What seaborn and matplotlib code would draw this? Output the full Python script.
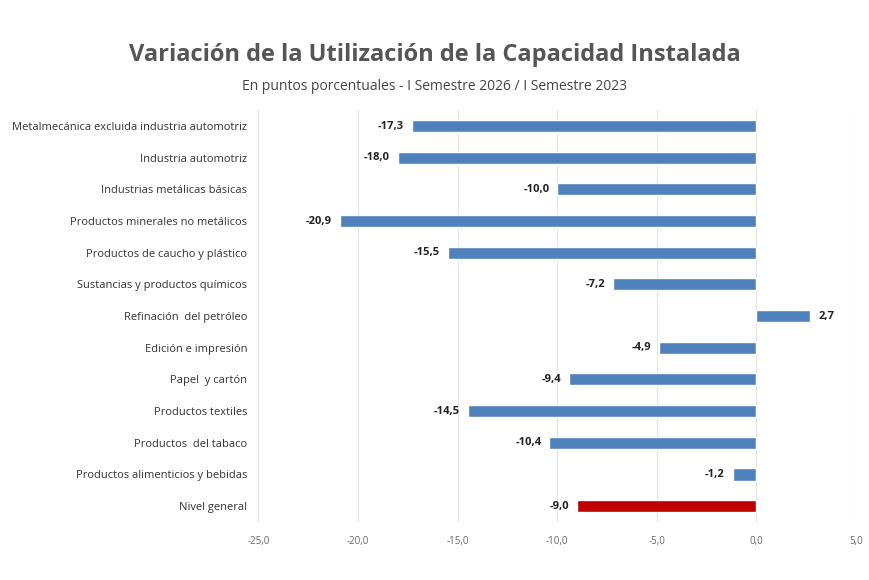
import matplotlib
matplotlib.use("Agg")
import matplotlib.pyplot as plt
import seaborn as sns
import pandas as pd

categories = [
    "Metalmecánica excluida industria automotriz",
    "Industria automotriz",
    "Industrias metálicas básicas",
    "Productos minerales no metálicos",
    "Productos de caucho y plástico",
    "Sustancias y productos químicos",
    "Refinación  del petróleo",
    "Edición e impresión",
    "Papel  y cartón",
    "Productos textiles",
    "Productos  del tabaco",
    "Productos alimenticios y bebidas",
    "Nivel general",
]
values = [-17.3, -18.0, -10.0, -20.9, -15.5, -7.2, 2.7, -4.9, -9.4, -14.5, -10.4, -1.2, -9.0]
colors = ["#4f81bd"] * 12 + ["#c00000"]

df = pd.DataFrame({"cat": categories, "val": values})

sns.set_style("white")
plt.rcParams["font.family"] = ["Open Sans", "DejaVu Sans"]

fig = plt.figure(figsize=(8.7, 5.8), dpi=100)
ax = fig.add_axes([0.297, 0.10, 0.687, 0.71])
sns.barplot(data=df, x="val", y="cat", hue="cat", palette=colors, legend=False,
            width=0.38, ax=ax, saturation=1)

ax.set_xlim(-25, 5)
ax.set_xticks(range(-25, 6, 5))
ax.set_xticklabels([f"{t:.1f}".replace(".", ",") for t in range(-25, 6, 5)],
                   fontsize=7, color="#666666")
ax.xaxis.grid(True, color="#e3e3e3", linewidth=0.8)
ax.set_axisbelow(True)
ax.set_xlabel("")
ax.set_ylabel("")
ax.tick_params(axis="y", labelsize=8, colors="#333333", length=0, pad=8)
ax.tick_params(axis="x", length=0, pad=10)
for s in ax.spines.values():
    s.set_visible(False)

for i, v in enumerate(values):
    lbl = f"{v:.1f}".replace(".", ",")
    if v < 0:
        ax.text(v - 0.4, i, lbl, ha="right", va="center", fontsize=8, fontweight="bold", color="#222222")
    else:
        ax.text(v + 0.4, i, lbl, ha="left", va="center", fontsize=8, fontweight="bold", color="#222222")

fig.text(0.5, 0.895, "Variación de la Utilización de la Capacidad Instalada",
         ha="center", fontsize=17, fontweight="bold", color="#555555")
fig.text(0.5, 0.845, "En puntos porcentuales - I Semestre 2026 / I Semestre 2023",
         ha="center", fontsize=10, color="#444444")

fig.savefig("out.png", dpi=100)
